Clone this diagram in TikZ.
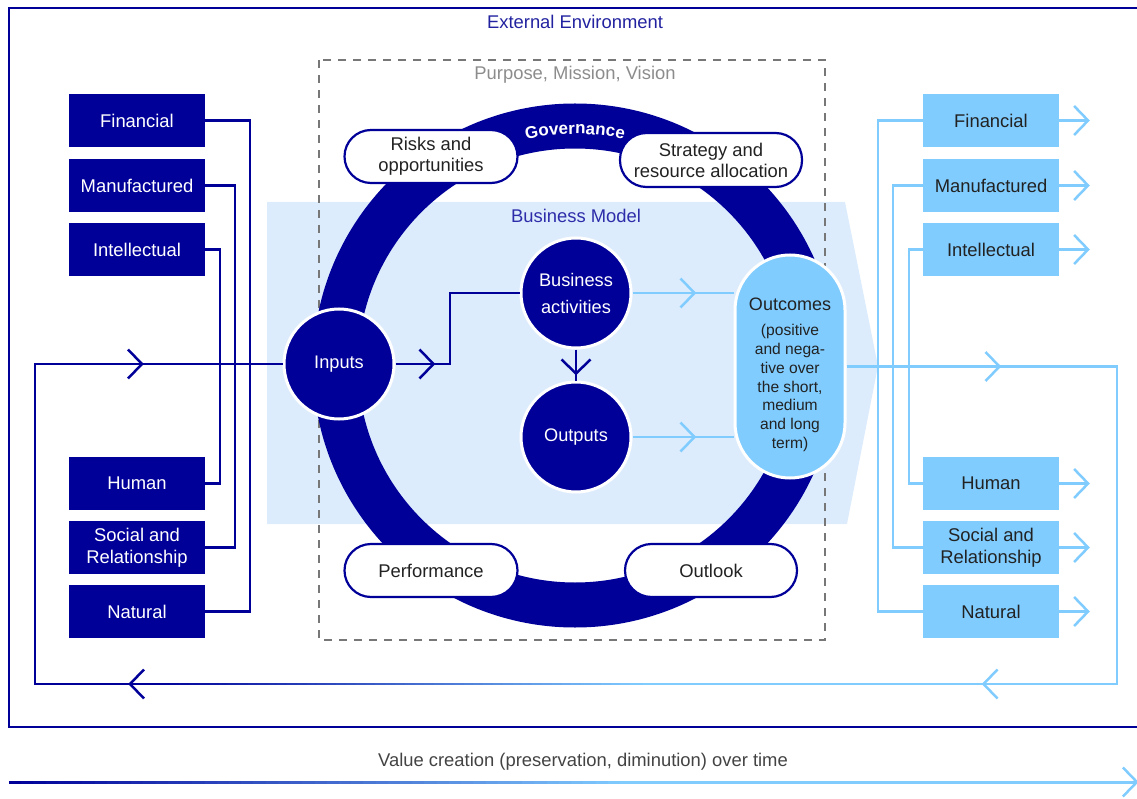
\documentclass[tikz,border=0pt]{standalone}
\usepackage{fontspec}
\setmainfont{Liberation Sans}
\usetikzlibrary{decorations.markings,decorations.text}

\definecolor{navy}{RGB}{0,0,153}
\definecolor{sky}{RGB}{128,204,255}
\definecolor{bmfill}{RGB}{221,236,252}
\definecolor{dashgray}{RGB}{119,119,119}
\definecolor{inktext}{RGB}{34,34,34}
\definecolor{envtext}{RGB}{34,34,160}
\definecolor{bmtext}{RGB}{45,45,170}
\definecolor{pmvtext}{RGB}{140,140,140}

\newcommand\govfont{\bfseries\fontsize{17}{20}\selectfont}

\tikzset{
  lbl/.style={font=\fontsize{18.4}{21}\selectfont, inner sep=0pt},
  capL/.style={fill=navy, text=white, minimum width=136pt, minimum height=53pt,
    inner sep=0pt, align=center, font=\fontsize{18.4}{21.5}\selectfont},
  capR/.style={capL, fill=sky, text=inktext},
  pill/.style={draw=navy, line width=2.2pt, fill=white, rounded corners=26.5pt,
    minimum height=53pt, inner sep=0pt, align=center, text=inktext,
    font=\fontsize{18.4}{21}\selectfont},
  disc/.style={circle, fill=navy, draw=white, line width=3pt, minimum size=110pt,
    inner sep=0pt, text=white, align=center, font=\fontsize{18.2}{27}\selectfont},
  chevat/.style={postaction={decorate, decoration={markings,
    mark=at position #1 with {\draw[line width=2.5pt, line cap=butt, line join=miter]
      (-14,-14.5) -- (0,0) -- (-14,14.5);}}}},
  link/.style={line width=2.5pt},
}

% a horizontal line fading from navy (left) to sky (right):
% #1 = left x, #2 = right x, #3 = y, #4 = line width
\newcommand\fadeline[4]{%
  \pgfmathsetmacro\segw{(#2-#1)/50}%
  \foreach \k in {0,...,49}{%
    \pgfmathsetmacro\pct{100-2*\k}%
    \pgfmathsetmacro\xa{#1+\segw*\k}%
    \pgfmathsetmacro\xb{#1+\segw*(\k+1.3)}%
    \draw[color=navy!\pct!sky, line width=#4, line cap=butt] (\xa,#3) -- (\xb,#3);
  }%
}

\begin{document}
\begin{tikzpicture}[x=1pt,y=-1pt]
\clip (0,0) rectangle (1137,799);

% external environment frame
\draw[navy, line width=1.5pt] (9,8) rectangle (1160,727);
\node[lbl, text=envtext] (ext) at (575,22) {External Environment};

% business model band
\fill[bmfill] (267,202) -- (845,202) -- (878,366) -- (847,524) -- (267,524) -- cycle;

% purpose, mission, vision frame
\draw[dashgray, line width=1.5pt, dash pattern=on 8pt off 7pt] (319,60) rectangle (825,640);
\node[lbl, text=pmvtext] (pmv) at (575,75) {Purpose, Mission, Vision};

% governance ring
\coordinate (c) at (575,365.5);
\fill[navy, even odd rule] (c) circle[radius=262] (c) circle[radius=217];
\begin{scope}[yscale=-1]
  \path[decorate, decoration={text along path, text={|\govfont|Governance},
      text align=center, text color=white}]
    (c) ++(110:231.5) arc[start angle=110, end angle=70, radius=231.5];
\end{scope}

\node[lbl, text=bmtext] (bm) at (576,216) {Business Model};

% governance topics
\node[pill, minimum width=173pt] (risk) at (431,156.5) {Risks and\\opportunities};
\node[pill, minimum width=182pt, minimum height=54pt] (strat) at (711,160) {Strategy and\\resource allocation};
\node[pill, minimum width=173pt] (perf) at (431,570.5) {Performance};
\node[pill, minimum width=172pt] (outl) at (711,570.5) {Outlook};

% business model stages
\node[disc] (inp) at (339,364) {Inputs};
\node[disc] (ba) at (576,293) {Business\\activities};
\node[disc] (outp) at (576,437) {Outputs};
\node[draw=white, line width=3pt, fill=sky, rounded corners=55pt, minimum width=110pt,
      minimum height=223pt, inner sep=0pt] (outc) at (790,366.5) {};
\node[inner sep=0pt, text=inktext, font=\fontsize{18}{21}\selectfont] (outcT) at (790,304) {Outcomes};
\node[inner sep=0pt, text=inktext, align=center, font=\fontsize{15.6}{18.7}\selectfont]
  (outcB) at (790,388) {(positive\\and nega-\\tive over\\the short,\\medium\\and long\\term)};

% flow inside the business model
\draw[navy, link, chevat=38pt] (inp.east) -- (450,364) |- (ba.west);
\draw[navy, link, chevat=24pt] (ba.south) -- (outp.north);
\draw[sky, link, chevat=62pt] (ba.east) -- (ba.east -| outc.west);
\draw[sky, link, chevat=62pt] (outp.east) -- (outp.east -| outc.west);

% capitals in
\node[capL] (lfin) at (137,120.5) {Financial};
\node[capL] (lman) at (137,185.5) {Manufactured};
\node[capL] (lint) at (137,249.5) {Intellectual};
\node[capL] (lhum) at (137,483.5) {Human};
\node[capL] (lsoc) at (137,547.5) {Social and\\Relationship};
\node[capL] (lnat) at (137,611.5) {Natural};

\draw[navy, link] (lfin.east) -- ++(45,0) |- (lnat.east);
\draw[navy, link] (lman.east) -- ++(30,0) |- (lsoc.east);
\draw[navy, link] (lint.east) -- ++(15,0) |- (lhum.east);

% capitals out
\node[capR] (rfin) at (991,120.5) {Financial};
\node[capR] (rman) at (991,185.5) {Manufactured};
\node[capR] (rint) at (991,249.5) {Intellectual};
\node[capR] (rhum) at (991,483.5) {Human};
\node[capR] (rsoc) at (991,547.5) {Social and\\Relationship};
\node[capR] (rnat) at (991,611.5) {Natural};

\draw[sky, link] (rfin.west) -- ++(-45,0) |- (rnat.west);
\draw[sky, link] (rman.west) -- ++(-30,0) |- (rsoc.west);
\draw[sky, link] (rint.west) -- ++(-14,0) |- (rhum.west);

\foreach \n in {rfin,rman,rint,rhum,rsoc,rnat}
  \draw[sky, link, chevat=-0.1pt] (\n.east) -- ++(29,0);

% feedback loop from outcomes back to inputs
\coordinate (rt) at (1117,366.5);
\coordinate (rb) at (1117,684);
\coordinate (mb) at (640,684);
\coordinate (lb1) at (150,684);
\coordinate (lb) at (35,684);
\coordinate (lt) at (35,364);
\draw[sky, link, chevat=153pt, chevat=721.5pt] (outc.east) -- (rt) -- (rb) -- (mb);
\fadeline{150}{640}{684}{2.5pt}
\draw[navy, link, chevat=20pt, chevat=542pt] (lb1) -- (lb) -- (lt) -- (inp.west);

% value creation over time
\node[lbl, text=inktext!85!white] (vc) at (583,762) {Value creation (preservation, diminution) over time};
\coordinate (t1) at (620,782);
\coordinate (t2) at (1137,782);
\fadeline{9}{620}{782}{3pt}
\draw[sky, line width=3pt, chevat=-0.1pt] (t1) -- (t2);
\end{tikzpicture}
\end{document}
